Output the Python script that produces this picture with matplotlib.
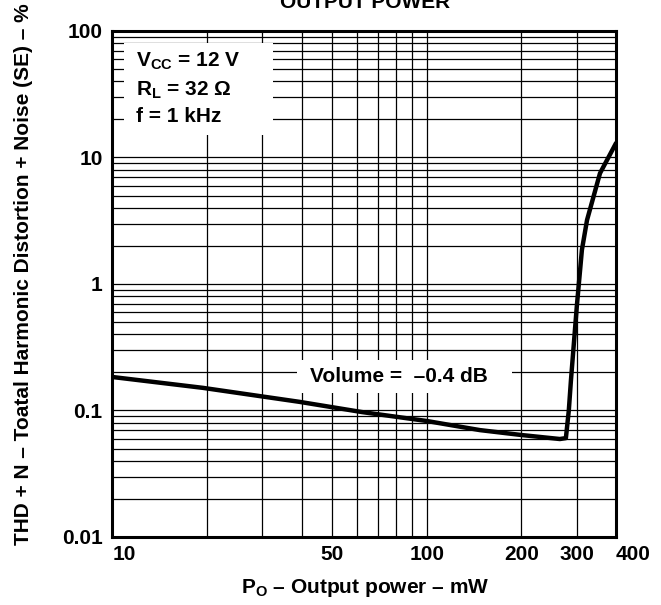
import matplotlib
matplotlib.use("Agg")
import matplotlib.pyplot as plt
from matplotlib.patches import Rectangle
from matplotlib.ticker import NullFormatter, FixedLocator

plt.rcParams['font.family'] = ['Liberation Sans', 'DejaVu Sans']
plt.rcParams['font.weight'] = 'bold'
plt.rcParams['mathtext.fontset'] = 'custom'
plt.rcParams['mathtext.rm'] = 'Liberation Sans:bold'
plt.rcParams['mathtext.bf'] = 'Liberation Sans:bold'
plt.rcParams['mathtext.it'] = 'Liberation Sans:bold'

# THD+N vs output power
power_mw = [10, 19.4, 39.4, 62, 100, 147.5, 200, 265, 277, 283, 287.5, 300, 311.5, 323.4, 355.6, 400]
thd_pct = [0.184, 0.151, 0.117, 0.0973, 0.0826, 0.070, 0.064, 0.0595, 0.0605, 0.1, 0.174, 0.66, 1.86, 3.2, 7.5, 13]

x_ticks = [10, 50, 100, 200, 300, 400]
x_labels = ["10", "50", "100", "200", "300", "400"]
x_grid = [20, 30, 40, 60, 70, 80, 90]
y_ticks = [0.01, 0.1, 1, 10, 100]
y_labels = ["0.01", "0.1", "1", "10", "100"]
y_grid = [m * d for d in [0.01, 0.1, 1, 10] for m in range(2, 10)]

fs = 15

fig = plt.figure(figsize=(6.61, 6.05), dpi=100)
ax = fig.add_axes([0.170, 0.1124, 0.762, 0.8364])
ax.set_xscale('log')
ax.set_yscale('log')
ax.set_xlim(10, 400)
ax.set_ylim(0.01, 100)

ax.set_xticks(x_ticks)
ax.set_xticklabels(x_labels)
ax.xaxis.set_minor_locator(FixedLocator(x_grid))
ax.xaxis.set_minor_formatter(NullFormatter())
ax.set_yticks(y_ticks)
ax.set_yticklabels(y_labels)
ax.yaxis.set_minor_locator(FixedLocator(y_grid))
ax.yaxis.set_minor_formatter(NullFormatter())

ax.tick_params(which='both', length=0, labelsize=fs)
ax.tick_params(axis='x', pad=6)
ax.tick_params(axis='y', pad=7)
for lab in ax.get_xticklabels():
    lab.set_fontweight('bold')
    if lab.get_text() in ("10", "400"):
        lab.set_ha('left')
for lab in ax.get_yticklabels():
    lab.set_fontweight('bold')

ax.grid(True, which='both', color='black', lw=0.9)
ax.set_axisbelow(True)
for sp in ax.spines.values():
    sp.set_linewidth(2.2)

ax.plot(power_mw, thd_pct, color='black', lw=3.2, solid_joinstyle='round',
        solid_capstyle='round', zorder=4)

# boxes hiding the grid behind the annotations
ax.add_patch(Rectangle((0.024, 0.794), 0.294, 0.182, transform=ax.transAxes,
                       facecolor='white', edgecolor='none', zorder=3))
ax.text(0.046, 0.940, r'V$_{\rm CC}$ = 12 V', transform=ax.transAxes, fontsize=fs,
        fontweight='bold', va='center', zorder=5)
ax.text(0.046, 0.883, r'R$_{\rm L}$ = 32 $\Omega$', transform=ax.transAxes, fontsize=fs,
        fontweight='bold', va='center', zorder=5)
ax.text(0.046, 0.831, 'f = 1 kHz', transform=ax.transAxes, fontsize=fs,
        fontweight='bold', va='center', zorder=5)

ax.add_patch(Rectangle((0.366, 0.284), 0.428, 0.065, transform=ax.transAxes,
                       facecolor='white', edgecolor='none', zorder=3))
ax.text(0.569, 0.317, 'Volume =  \u20130.4 dB', transform=ax.transAxes, fontsize=fs,
        fontweight='bold', ha='center', va='center', zorder=5)

fig.text(0.552, 0.980, 'OUTPUT POWER', fontsize=fs, fontweight='bold',
         ha='center', va='bottom')
fig.text(0.552, 0.028, 'P$_{\\rm O}$ \u2013 Output power \u2013 mW',
         fontsize=fs, fontweight='bold', ha='center', va='center')
fig.text(0.035, 0.547, 'THD + N \u2013 Toatal Harmonic Distortion + Noise (SE) \u2013 %',
         fontsize=fs, fontweight='bold', rotation=90, ha='center', va='center')

fig.savefig('out.png', dpi=100)
